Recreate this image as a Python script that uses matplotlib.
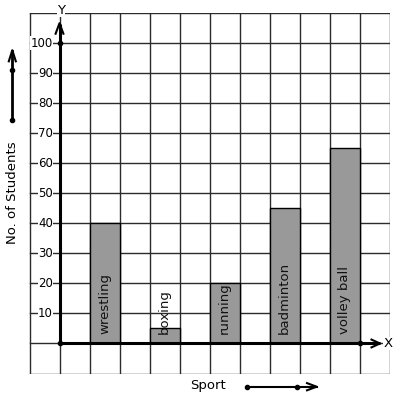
import matplotlib.pyplot as plt

# Data
sports = ["wrestling", "boxing", "running", "badminton", "volley ball"]
students = [40, 5, 20, 45, 65]
bar_pos = [1, 3, 5, 7, 9]          # left edge of each bar, in grid cells
y_ticks = [10, 20, 30, 40, 50, 60, 70, 80, 90, 100]

fig = plt.figure(figsize=(3.97, 3.99), dpi=100)
W, H = 397, 399
# axes covers exactly the grid area (pixels 29.5..389.5 x, 13.3..373.5 y)
ax = fig.add_axes([29.5 / W, (H - 373.5) / H, 360 / W, 360.2 / H])
ax.set_xlim(-1, 11)
ax.set_ylim(-10, 110)
ax.axis("off")

#Grid
gcol = "#2b2b2b"
for gx in range(-1, 12):
    ax.plot([gx, gx], [-10, 110], color=gcol, lw=1.0, zorder=1)
for gy in range(-10, 111, 10):
    ax.plot([-1, 11], [gy, gy], color=gcol, lw=1.0, zorder=1)

#Bars
ax.bar(bar_pos, students, width=1, align="edge", color="#999999",
       edgecolor="black", linewidth=1.0, zorder=2)
for x, name in zip(bar_pos, sports):
    ax.text(x + 0.5, 3.3, name, rotation=90, ha="center", va="bottom",
            fontsize=9.5, color="#111111", zorder=3)

#Axes with arrows
ax.plot([0, 0], [0, 106.5], color="black", lw=2.2, zorder=4, solid_capstyle="butt")
ax.plot([0, 10.68], [0, 0], color="black", lw=2.2, zorder=4, solid_capstyle="butt")
ax.plot([-0.13, 0, 0.13], [103.2, 106.7, 103.2], color="black", lw=1.5, zorder=4)
ax.plot([10.4, 10.68, 10.4], [1.3, 0, -1.3], color="black", lw=1.5, zorder=4)
ax.plot([0, 0, 10], [0, 100, 0], "o", color="black", ms=3, zorder=5)

#Tick labels
for v in y_ticks:
    ax.text(-0.22, v, str(v), ha="right", va="center", fontsize=8.5, zorder=3,
            bbox=dict(facecolor="white", edgecolor="none", pad=0.3))
ax.text(0.05, 111.0, "Y", ha="center", va="center", fontsize=9.5, clip_on=False,
        bbox=dict(facecolor="white", edgecolor="none", pad=0.3))
ax.text(10.95, 0, "X", ha="center", va="center", fontsize=9.5, zorder=3,
        bbox=dict(facecolor="white", edgecolor="none", pad=0.3))

#Axis titles and direction arrows
ax.text(-1.58, 50.2, "No. of Students", rotation=90, ha="center", va="center",
        fontsize=9.5, clip_on=False)
ax.plot([-1.573, -1.573], [74.3, 97.5], color="black", lw=2, clip_on=False)
ax.plot([-1.69, -1.573, -1.456], [94.0, 97.7, 94.0], color="black", lw=1.5, clip_on=False)
ax.plot([-1.573, -1.573], [74.3, 91.2], "o", color="black", ms=3, clip_on=False)

ax.text(4.95, -13.9, "Sport", ha="center", va="center", fontsize=9.5, clip_on=False)
ax.plot([6.24, 8.57], [-14.4, -14.4], color="black", lw=1.5, clip_on=False)
ax.plot([8.25, 8.57, 8.25], [-13.2, -14.4, -15.6], color="black", lw=1.5, clip_on=False)
ax.plot([6.24, 7.91], [-14.4, -14.4], "o", color="black", ms=3, clip_on=False)

plt.savefig("out.png", dpi=100)
